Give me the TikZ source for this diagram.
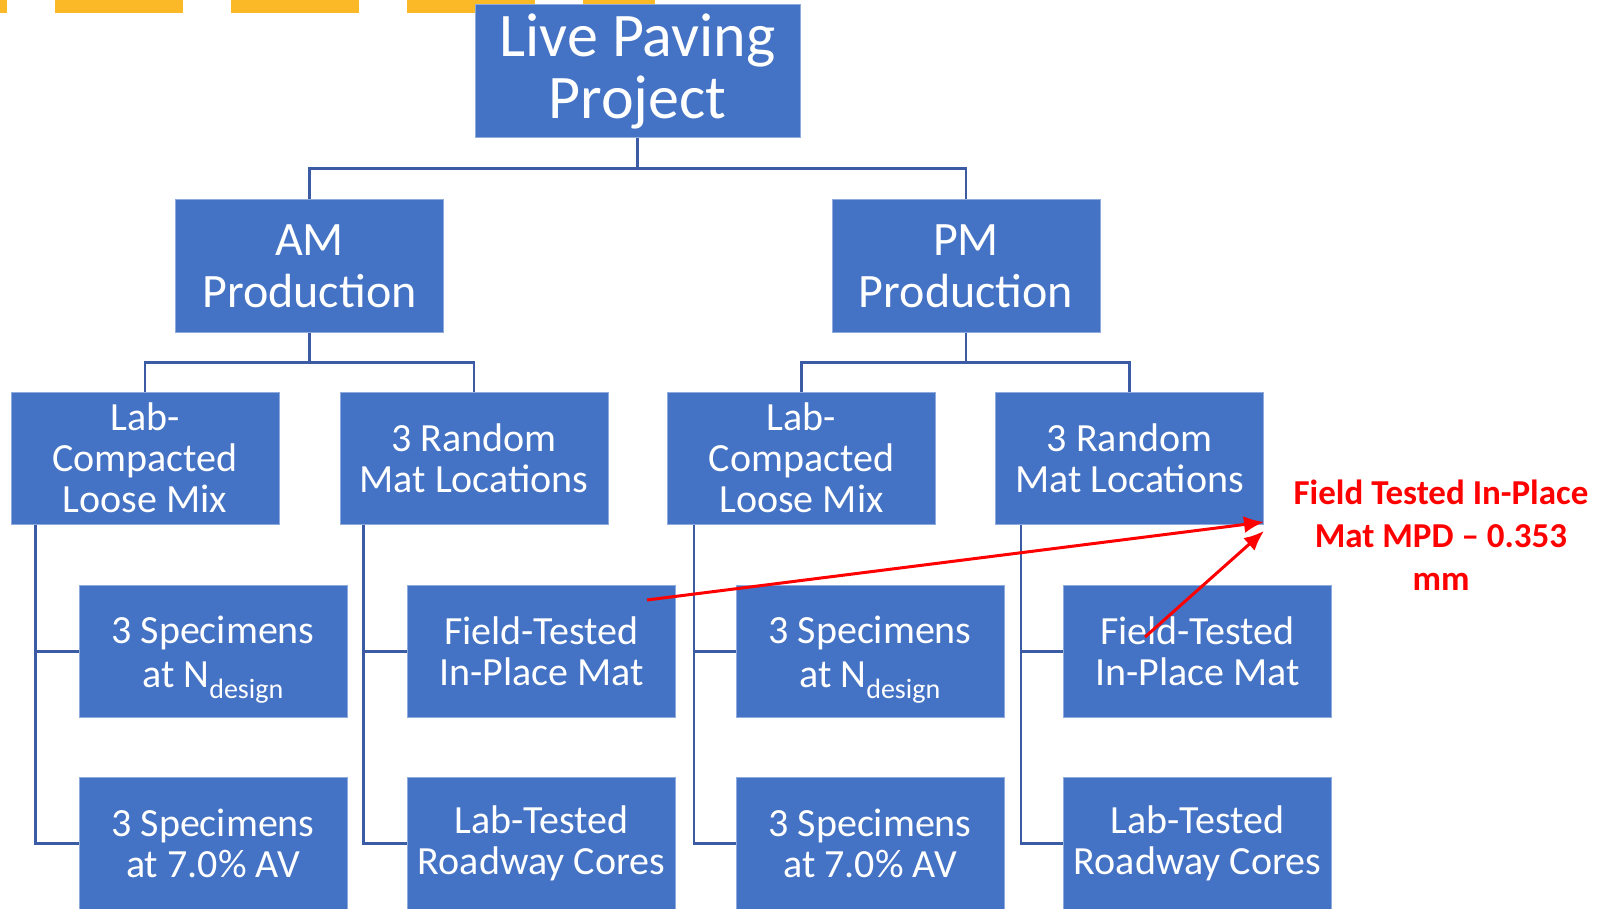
\documentclass[tikz,border=0pt]{standalone}
\usepackage{fontspec}
\setmainfont{Carlito}
\usetikzlibrary{arrows.meta}
\definecolor{boxblue}{HTML}{4472C4}
\definecolor{edgeblue}{HTML}{8FAADC}
\definecolor{linkblue}{HTML}{3B5BA5}
\definecolor{bargold}{HTML}{FBB927}
\tikzset{
  box/.style={draw=edgeblue, line width=1pt, fill=boxblue, text=white,
    minimum width=268pt, minimum height=132pt, inner sep=0pt, align=center,
    font=\fontsize{40}{41}\selectfont},
  link/.style={draw=linkblue, line width=2.5pt},
  callout/.style={draw=red, line width=3pt, >={Latex[length=20pt,width=17pt]}, ->},
}
\newcommand{\ndesign}{\rule{0pt}{43pt}3 Specimens\\[3pt]at N\textsubscript{design}}

\begin{document}
\begin{tikzpicture}[x=1pt,y=-1pt]
    \useasboundingbox (0,0) rectangle (1600,909);
    % gold bars along the top edge
    \fill[bargold] (0,0) rectangle (7,13);
    \foreach \x in {55,231,407} {\fill[bargold] (\x,0) rectangle ++(128,13);}
    \fill[bargold] (583,0) rectangle (655,13);

    \node[box, minimum width=325pt, minimum height=133pt, font=\fontsize{62}{62}\selectfont] (proj) at (637.5,71.5) {Live Paving\\Project};
    \node[box, font=\fontsize{48}{52}\selectfont] (am) at (309.5,266) {AM\\Production};
    \node[box, font=\fontsize{48}{52}\selectfont] (pm) at (966,266) {PM\\Production};

    \node[box] (amlab) at (145,458) {Lab-\\Compacted\\Loose Mix};
    \node[box] (amrand) at (474,458) {3 Random\\Mat Locations};
    \node[box] (pmlab) at (801.5,458) {Lab-\\Compacted\\Loose Mix};
    \node[box] (pmrand) at (1129.5,458) {3 Random\\Mat Locations};

    \node[box] (amspecn) at (213,651.5) {\ndesign};
    \node[box] (amfield) at (541.5,651.5) {Field-Tested\\In-Place Mat};
    \node[box] (pmspecn) at (870,651.5) {\ndesign};
    \node[box] (pmfield) at (1197.5,651.5) {Field-Tested\\In-Place Mat};

    \node[box] (amspecav) at (213,843.5) {3 Specimens\\at 7.0\% AV};
    \node[box] (amcores) at (541.5,843.5) {Lab-Tested\\Roadway Cores};
    \node[box] (pmspecav) at (870,843.5) {3 Specimens\\at 7.0\% AV};
    \node[box] (pmcores) at (1197.5,843.5) {Lab-Tested\\Roadway Cores};

    % tree links
    \draw[link] (proj.south) -- ++(0,30) -| (am.north);
    \draw[link] (proj.south) -- ++(0,30) -| (pm.north);
    \draw[link] (am.south) -- ++(0,30) -| (amlab.north);
    \draw[link] (am.south) -- ++(0,30) -| (amrand.north);
    \draw[link] (pm.south) -- ++(0,30) -| (pmlab.north);
    \draw[link] (pm.south) -- ++(0,30) -| (pmrand.north);
    \draw[link] ([xshift=25pt]amlab.south west) |- (amspecn.west);
    \draw[link] ([xshift=25pt]amlab.south west) |- (amspecav.west);
    \draw[link] ([xshift=24pt]amrand.south west) |- (amfield.west);
    \draw[link] ([xshift=24pt]amrand.south west) |- (amcores.west);
    \draw[link] ([xshift=27pt]pmlab.south west) |- (pmspecn.west);
    \draw[link] ([xshift=27pt]pmlab.south west) |- (pmspecav.west);
    \draw[link] ([xshift=26pt]pmrand.south west) |- (pmfield.west);
    \draw[link] ([xshift=26pt]pmrand.south west) |- (pmcores.west);

    % MPD note
    \node[text=red, align=center, font=\fontsize{35}{43}\selectfont\bfseries] (mpd) at (1441,535) {Field Tested In-Place\\Mat MPD – 0.353\\mm};
    \coordinate (tipa) at (1264,522);
    \coordinate (tipb) at (1264,531);
    \coordinate (fromam) at (647,600);
    \coordinate (frompm) at (1145,637);
    \draw[callout] (fromam) -- (tipa);
    \draw[callout] (frompm) -- (tipb);
\end{tikzpicture}
\end{document}
